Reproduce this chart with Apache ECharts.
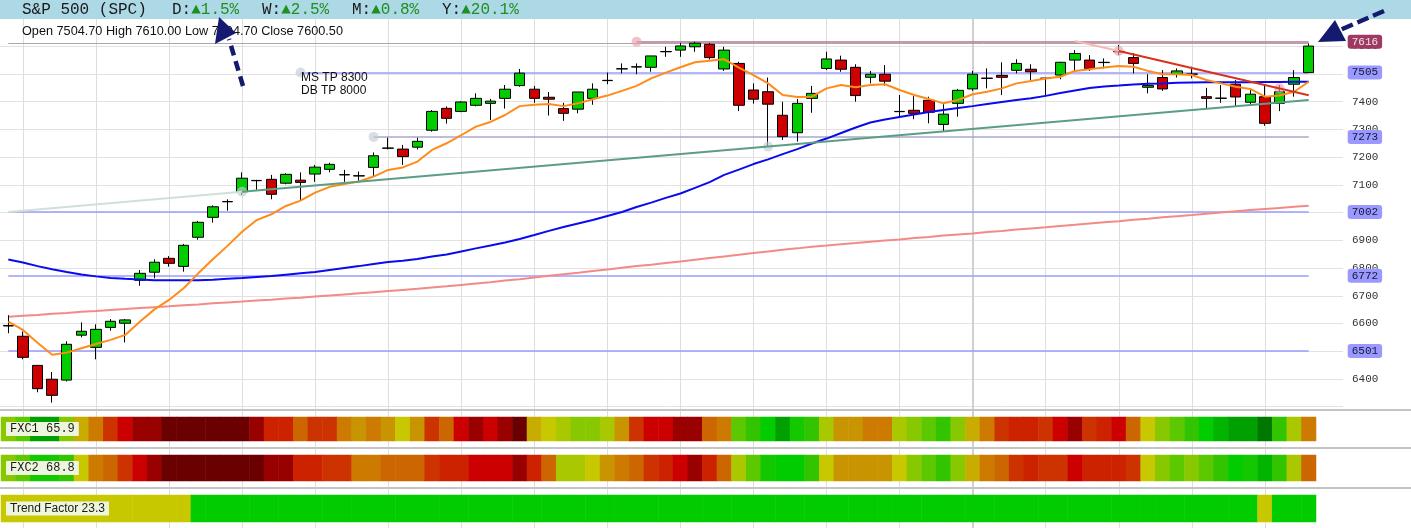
<!DOCTYPE html>
<html><head><meta charset="utf-8">
<script src="https://cdn.jsdelivr.net/npm/echarts@6/dist/echarts.min.js"></script>
<style>html,body{margin:0;padding:0;background:#fff}#c{width:1411px;height:528px}</style>
</head><body><div id="c"></div>
<script>
// ---------------- DATA ----------------
const opens  = [6593,6554,6449,6399,6396,6558,6514,6586,6601,6756, 6785,6835,6806,6911,6983,7039,7075,7116,7120,7106, 7117,7139,7156,7136,7133,7163,7232,7229,7236,7297, 7376,7365,7387,7394,7412,7458,7445,7416,7375,7373, 7412,7476,7518,7525,7524,7580,7586,7598,7607,7518, 7538,7442,7436,7351,7288,7412,7520,7550,7524,7488, 7499,7364,7369,7405,7318,7394,7446,7484,7495,7513, 7517,7485,7496,7550,7550,7541,7580,7559,7452,7487, 7499,7499,7418,7412,7463,7398,7418,7394,7463,7504.7];
const closes = [6591,6478,6365,6341,6525,6572,6579,6608,6613,6781, 6821,6817,6882,6965,7021,7040,7124,7115,7066,7138, 7109,7164,7174,7137,7132,7205,7233,7202,7257,7365, 7340,7399,7412,7402,7445,7503,7412,7409,7358,7435, 7445,7477,7519,7526,7565,7581,7601,7611,7559,7586, 7387,7409,7391,7274,7394,7430,7554,7517,7422,7499, 7474,7365,7358,7362,7355,7441,7499,7485,7488,7538, 7508,7484,7542,7574,7520,7542,7581,7538,7458,7446, 7511,7500,7412,7413,7417,7427,7322,7436,7487,7600.5];
const lows   = [6565,6471,6352,6315,6391,6550,6471,6574,6532,6736, 6763,6805,6787,6902,6964,7007,7064,7082,7048,7102, 7045,7111,7145,7111,7115,7130,7228,7172,7228,7292, 7321,7362,7383,7334,7375,7454,7396,7350,7331,7358, 7389,7463,7502,7499,7508,7562,7562,7580,7552,7511, 7366,7393,7240,7262,7256,7360,7514,7508,7400,7466, 7458,7346,7337,7322,7294,7346,7439,7448,7424,7502, 7478,7422,7481,7508,7511,7520,7568,7502,7430,7439, 7487,7484,7374,7396,7382,7388,7313,7366,7418,7504.7];
const highs  = [6630,6571,6450,6425,6536,6604,6597,6616,6616,6793, 6832,6843,6887,6970,7026,7048,7145,7118,7136,7142, 7145,7172,7180,7154,7148,7217,7270,7244,7270,7370, 7383,7402,7430,7410,7460,7518,7457,7435,7396,7435, 7466,7505,7538,7538,7565,7598,7612,7616,7612,7598, 7544,7466,7487,7400,7410,7457,7580,7566,7535,7511, 7532,7424,7420,7418,7391,7446,7511,7520,7542,7553, 7535,7487,7544,7586,7568,7556,7605,7575,7499,7514, 7520,7526,7450,7460,7478,7442,7460,7460,7514,7610];

const maFast = [6607,6577,6531,6487,6495,6511,6526,6541,6559,6606, 6651,6685,6727,6781,6832,6880,6931,6973,6994,7024, 7043,7072,7093,7103,7112,7130,7154,7163,7184,7226, 7250,7279,7310,7327,7352,7384,7389,7392,7384,7394, 7409,7422,7439,7457,7484,7505,7524,7542,7548,7553, 7523,7496,7466,7424,7417,7418,7448,7460,7452,7460, 7463,7442,7424,7410,7394,7406,7427,7436,7448,7466, 7475,7484,7490,7511,7517,7523,7529,7526,7511,7499, 7499,7496,7478,7466,7454,7446,7418,7422,7436,7472];
const maMid  = [6831,6820,6807,6796,6786,6777,6770,6764,6761,6759, 6756,6756,6756,6756,6758,6761,6764,6768,6771,6776, 6781,6786,6793,6800,6807,6815,6822,6826,6833,6842, 6849,6860,6871,6881,6892,6905,6919,6934,6948,6961, 6973,6988,7002,7020,7036,7053,7069,7089,7110,7136, 7155,7175,7192,7211,7229,7249,7267,7287,7307,7325, 7336,7345,7354,7363,7370,7377,7384,7392,7399,7406, 7412,7421,7431,7440,7449,7455,7458,7462,7465,7466, 7468,7469,7470,7470,7470,7470,7471,7471,7472,7472];
const maLong = [6624,6628,6631,6635,6638,6642,6645,6649,6652,6656, 6659,6662,6666,6669,6673,6676,6679,6683,6686,6690, 6693,6697,6701,6705,6709,6713,6717,6721,6725,6730, 6734,6739,6744,6749,6755,6760,6766,6772,6778,6783, 6789,6795,6801,6807,6812,6818,6824,6830,6836,6842, 6848,6854,6860,6866,6871,6877,6881,6886,6890,6895, 6899,6903,6908,6912,6917,6921,6925,6930,6934,6939, 6943,6947,6952,6956,6961,6965,6969,6974,6978,6983, 6987,6991,6996,7000,7005,7009,7013,7017,7021,7025];

// heat strip levels (0 = deepest red ... 18 = deepest green)
const fxc1Levels = [11,12,17,17,11,8,6,4,2,1, 1,0,0,0,0,0,0,1,3,3, 5,4,4,6,7,6,7,9,7,4, 5,2,1,2,1,0,8,9,10,11, 11,10,7,4,2,2,1,1,5,6, 12,13,15,17,14,13,10,7,7,6, 6,10,11,12,13,11,8,6,4,3, 3,4,2,1,4,3,2,5,9,11, 12,13,15,16,17,17,18,13,10,6];
const fxc2Levels = [11,12,14,14,13,9,6,5,4,2, 1,0,0,0,0,0,0,0,1,1, 3,3,4,4,6,6,5,5,5,4, 3,3,2,2,2,1,3,5,10,10, 9,7,6,5,4,3,2,1,3,5, 10,12,14,15,15,13,9,7,7,7, 7,9,11,12,13,11,8,6,5,4, 3,4,4,2,3,3,3,4,9,11, 12,11,12,13,15,14,16,13,10,5];
const trendLevels = [9,9,9,9,9,9,9,9,9,9, 9,9,9,15,15,15,15,15,15,15, 15,15,15,15,15,15,15,15,15,15, 15,15,15,15,15,15,15,15,15,15, 15,15,15,15,15,15,15,15,15,15, 15,15,15,15,15,15,15,15,15,15, 15,15,15,15,15,15,15,15,15,15, 15,15,15,15,15,15,15,15,15,15, 15,15,15,15,15,15,9,15,15,15];
const stripNames = ['FXC1 65.9', 'FXC2 68.8', 'Trend Factor 23.3'];

// price levels with badges
const levelValues   = [7616, 7505, 7273, 7002, 6772, 6501];
const levelStartIdx = [43, 20, 25, 0, 0, 0];
const currentHigh = 7610;
// trend lines: start, anchor, end  ([index, value])
const supportLine = [[0, 7002], [16, 7075], [89, 7406]];
const resistLine  = [[73, 7619], [76, 7582.5], [89, 7423]];
const anchorsGrey = [[20, 7505], [25, 7273], [16, 7075], [52, 7238]];
const anchorsPink = [[43, 7616], [76, 7582.5], [87, 7448]];
const weekStarts = [1,6,11,16,21,26,31,36,41,46,51,56,61,66,71,76,81,86];

const headerTitle = 'S&P 500 (SPC)';
const headerStats = [['D:', '▲1.5%'], ['W:', '▲2.5%'], ['M:', '▲0.8%'], ['Y:', '▲20.1%']];
const noteLines = ['MS TP 8300', 'DB TP 8000'];

// ---------------- STYLE ----------------
const MONO = '"Liberation Mono", "DejaVu Sans Mono", monospace';
const SANS = '"Liberation Sans", Arial, sans-serif';
const heatPalette = ['#6b0000','#990000','#cc0000','#cc2200','#cc3300','#cc6600','#cc7a00','#c89400','#c8ac00','#c8c800','#aac800','#88c800','#5cc800','#33c400','#14c800','#00cc00','#00b400','#00a000','#007800'];
const levelLineColors = ['#b87394','#9b9bff','#a8a8d0','#9b9bff','#9b9bff','#9b9bff'];
const badgeBg = ['#9c3a60','#9999ff','#9999ff','#9999ff','#9999ff','#9999ff'];
const badgeFg = ['#f5e4ec','#15153a','#15153a','#15153a','#15153a','#15153a'];

const N = opens.length;
const last = N - 1;
const days = opens.map((_, i) => 'd' + (i + 1));
const candleData = opens.map((o, i) => [o, closes[i], lows[i], highs[i]]);

const gridL = 1, gridW = 1315, mainTop = 18.5, mainH = 388.2;

const levelMarks = [[{coord: [0, currentHigh], lineStyle: {color: '#a9a9a9', width: 1, type: 'solid'}}, {coord: [last, currentHigh]}]]
  .concat(levelValues.map((v, k) => [
    {coord: [levelStartIdx[k], v], lineStyle: {color: levelLineColors[k], width: 1.5, type: 'solid'},
     label: {show: true, position: 'end', distance: 39, formatter: String(v), backgroundColor: badgeBg[k], color: badgeFg[k],
             padding: [2, 4, 1, 4], borderRadius: 3, fontFamily: MONO, fontSize: 11}},
    {coord: [last, v]}
  ]));

const trendMarks = [
  [{coord: supportLine[0], lineStyle: {color: '#cfe0d6', width: 2, type: 'solid'}}, {coord: supportLine[1]}],
  [{coord: supportLine[1], lineStyle: {color: '#5b9d85', width: 2, type: 'solid'}}, {coord: supportLine[2]}],
  [{coord: resistLine[0], lineStyle: {color: '#f6b9b3', width: 2, type: 'solid'}}, {coord: resistLine[1]}],
  [{coord: resistLine[1], lineStyle: {color: '#d8321e', width: 2, type: 'solid'}}, {coord: resistLine[2]}]
];

const stripTops = [417, 455, 495], stripHeights = [24, 26, 27];
const stripData = [fxc1Levels, fxc2Levels, trendLevels];

const graphic = [];
[409, 447, 487].forEach(y => graphic.push({type: 'rect', silent: true, z: 50, shape: {x: 0, y: y, width: 1411, height: 2}, style: {fill: '#c4c4c4'}}));
graphic.push({type: 'rect', silent: true, z: 100, shape: {x: 0, y: 0, width: 1411, height: 19}, style: {fill: '#add8e6'}});
graphic.push({type: 'text', silent: true, z: 101, x: 22, y: 10, style: {text: headerTitle, font: '16px ' + MONO, fill: '#1a1a1a', verticalAlign: 'middle'}});
const statX = [172, 262, 352, 442];
headerStats.forEach((s, k) => {
  graphic.push({type: 'text', silent: true, z: 101, x: statX[k], y: 10, style: {text: s[0], font: '16px ' + MONO, fill: '#1a1a1a', verticalAlign: 'middle'}});
  graphic.push({type: 'text', silent: true, z: 101, x: statX[k] + 19.2, y: 10, style: {text: s[1], font: '16px ' + MONO, fill: '#1f8f1f', verticalAlign: 'middle'}});
});
const ohlc = 'Open ' + opens[last].toFixed(2) + ' High ' + highs[last].toFixed(2) + ' Low ' + lows[last].toFixed(2) + ' Close ' + closes[last].toFixed(2);
graphic.push({type: 'text', silent: true, z: 101, x: 22, y: 31.5, style: {text: ohlc, font: '12.7px ' + SANS, fill: '#111', verticalAlign: 'middle'}});
noteLines.forEach((t, k) => graphic.push({type: 'text', silent: true, z: 101, x: 301, y: 78 + 13 * k, style: {text: t, font: '12px ' + SANS, fill: '#111', verticalAlign: 'middle'}}));
stripNames.forEach((t, k) => graphic.push({type: 'text', silent: true, z: 101, x: 6, y: stripTops[k] + stripHeights[k] / 2,
  style: {text: t, font: '12px ' + (k < 2 ? MONO : SANS), fill: '#1a1a1a', verticalAlign: 'middle', backgroundColor: '#edf5dc', padding: [1, 4, 1, 4]}}));
// annotation arrows
const navy = '#141a70';
graphic.push({type: 'polyline', silent: true, z: 110, shape: {points: [[243, 86], [229, 39]]}, style: {stroke: navy, lineWidth: 4.5, lineDash: [10, 6], fill: null}});
graphic.push({type: 'polygon', silent: true, z: 110, shape: {points: [[219, 17], [215, 44], [236, 33]]}, style: {fill: navy}});
graphic.push({type: 'polyline', silent: true, z: 110, shape: {points: [[1384, 11], [1340, 30]]}, style: {stroke: navy, lineWidth: 4.5, lineDash: [12, 5], fill: null}});
graphic.push({type: 'polygon', silent: true, z: 110, shape: {points: [[1318, 42], [1335, 20], [1346, 41]]}, style: {fill: navy}});

const option = {
  animation: false,
  backgroundColor: '#fff',
  grid: [
    {left: gridL, top: 19, width: gridW, height: 509},
    {left: gridL, top: mainTop, width: gridW, height: mainH},
    {left: 0, top: mainTop, width: 1343, height: mainH},
    {left: gridL, top: stripTops[0], width: gridW, height: stripHeights[0]},
    {left: gridL, top: stripTops[1], width: gridW, height: stripHeights[1]},
    {left: gridL, top: stripTops[2], width: gridW, height: stripHeights[2]}
  ],
  xAxis: [0, 1, 2, 3, 4, 5].map(g => ({type: 'category', gridIndex: g, data: days, show: false})),
  yAxis: [
    {gridIndex: 0, type: 'value', min: 0, max: 1, show: false},
    {gridIndex: 1, type: 'value', min: 6300, max: 7700, show: false},
    {gridIndex: 2, type: 'value', min: 6300, max: 7700, interval: 100, position: 'right',
     axisLine: {show: false}, axisTick: {show: false},
     splitLine: {show: true, lineStyle: {color: '#e2e2e2', width: 1}},
     axisLabel: {margin: 9, color: '#333', fontFamily: MONO, fontSize: 11, showMinLabel: false, showMaxLabel: false,
                 formatter: v => String(v)}},
    {gridIndex: 3, type: 'category', data: ['a'], show: false},
    {gridIndex: 4, type: 'category', data: ['a'], show: false},
    {gridIndex: 5, type: 'category', data: ['a'], show: false}
  ],
  visualMap: {type: 'piecewise', show: false, seriesIndex: [7, 8, 9], dimension: 2,
    pieces: heatPalette.map((c, lv) => ({value: lv, color: c}))},
  series: [
    {type: 'line', xAxisIndex: 0, yAxisIndex: 0, data: [], silent: true,
     markLine: {z: 0, silent: true, symbol: ['none', 'none'], label: {show: false},
       data: weekStarts.map(i => ({xAxis: i, lineStyle: {color: i === 66 ? '#d0d0d0' : '#dedede', width: i === 66 ? 2 : 1, type: 'solid'}}))}},
    {type: 'line', xAxisIndex: 1, yAxisIndex: 1, data: maLong, symbol: 'none', silent: true, z: 1,
     lineStyle: {color: '#f28b86', width: 2},
     markLine: {z: 1, silent: true, symbol: ['none', 'none'], label: {show: false}, data: levelMarks}},
    {type: 'candlestick', xAxisIndex: 1, yAxisIndex: 1, data: candleData, barWidth: 11, silent: true, z: 2,
     itemStyle: {color: '#00cc00', color0: '#cc0000', borderColor: '#000', borderColor0: '#000', borderColorDoji: '#000', borderWidth: 1}},
    {type: 'line', xAxisIndex: 1, yAxisIndex: 1, data: maMid, symbol: 'none', silent: true, z: 3,
     lineStyle: {color: '#0a0aee', width: 2}},
    {type: 'line', xAxisIndex: 1, yAxisIndex: 1, data: maFast, symbol: 'none', silent: true, z: 3,
     lineStyle: {color: '#ff8c1a', width: 2},
     markLine: {silent: true, symbol: ['none', 'none'], label: {show: false}, data: trendMarks}},
    {type: 'scatter', xAxisIndex: 1, yAxisIndex: 1, data: anchorsGrey, symbolSize: 10, silent: true, z: 4,
     itemStyle: {color: 'rgba(196,204,214,0.8)'}},
    {type: 'scatter', xAxisIndex: 1, yAxisIndex: 1, data: anchorsPink, symbolSize: 10, silent: true, z: 4,
     itemStyle: {color: 'rgba(232,160,170,0.8)'}}
  ].concat(stripData.map((lv, k) => ({
    type: 'heatmap', xAxisIndex: 3 + k, yAxisIndex: 3 + k, silent: true, z: 2,
    data: lv.map((v, i) => [i, 0, v]), itemStyle: {borderWidth: 0}
  }))),
  graphic: graphic
};

const chart = echarts.init(document.getElementById('c'), null, {renderer: 'canvas'});
chart.setOption(option);
</script>
</body></html>
